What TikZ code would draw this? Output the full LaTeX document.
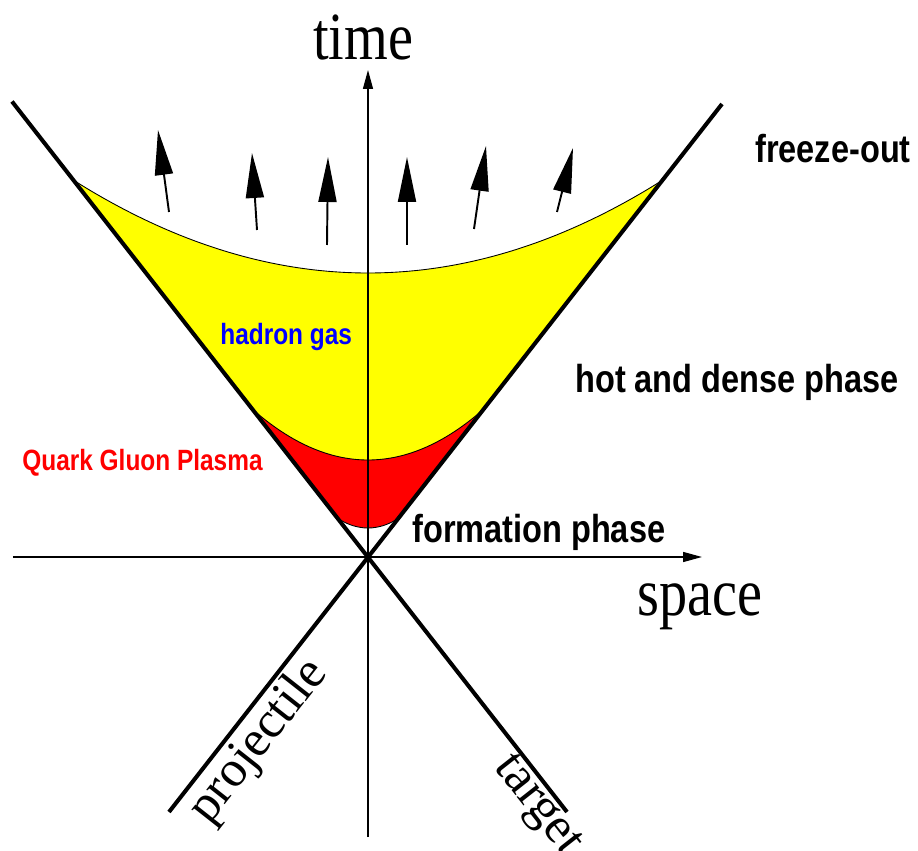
\documentclass[tikz,border=0pt]{standalone}
\usepackage{fontspec}
\setmainfont{Liberation Serif}
\setsansfont{Liberation Sans}
\usetikzlibrary{arrows.meta}
\definecolor{gasyellow}{RGB}{255,255,0}
\definecolor{qgpred}{RGB}{255,0,0}
\definecolor{gasblue}{RGB}{0,0,255}

\begin{document}
\begin{tikzpicture}[
    cone/.style={line width=2.3pt},
    rim/.style={line width=0.5pt},
    axis/.style={line width=0.8pt, -{Triangle[length=0.38cm,width=0.2cm]}},
    flow/.style={line width=1.1pt, -{Triangle[length=0.9cm,width=0.36cm]}},
    phase/.style={font=\sffamily\bfseries\fontsize{18.5}{20}\selectfont, yscale=1.2, anchor=base west, inner sep=0pt},
    matter/.style={font=\sffamily\bfseries\fontsize{13.9}{15}\selectfont, yscale=1.2, anchor=base west, inner sep=0pt},
    axlabel/.style={font=\fontsize{32}{34}\selectfont, yscale=1.2, anchor=base west, inner sep=0pt},
    beam/.style={font=\fontsize{29}{31}\selectfont, inner sep=0pt}
]
\useasboundingbox (-7.36,-5.86) rectangle (11.0,11.14);

\coordinate (o) at (0,0);
\coordinate (ul) at (-7.12,9.11);
\coordinate (ur) at (7.08,9.06);
\coordinate (ll) at (-3.98,-5.1);
\coordinate (lr) at (3.98,-5.1);
\coordinate (tbot) at (0,-5.6);
\coordinate (ttop) at (0,9.74);
\coordinate (sleft) at (-7.1,0);
\coordinate (sright) at (6.68,0);

\fill[gasyellow] plot[domain=-5.885:5.885, smooth, samples=40] (\x,{5.68+0.0535*\x*\x}) -- (o) -- cycle;
\fill[qgpred] plot[domain=-2.303:2.303, smooth, samples=30] (\x,{1.94+0.19*\x*\x}) -- (o) -- cycle;
\fill[white] plot[domain=-0.599:0.599, smooth, samples=15] (\x,{0.58+0.52*\x*\x}) -- (o) -- cycle;
\draw[rim] plot[domain=-5.885:5.885, smooth, samples=40] (\x,{5.68+0.0535*\x*\x});
\draw[rim] plot[domain=-2.303:2.303, smooth, samples=30] (\x,{1.94+0.19*\x*\x});
\draw[rim] plot[domain=-0.599:0.599, smooth, samples=15] (\x,{0.58+0.52*\x*\x});

\draw[axis] (tbot) -- (ttop);
\draw[axis] (sleft) -- (sright);
\draw[cone] (ul) -- (lr);
\draw[cone] (ur) -- (ll);

\draw[flow] (-3.98,6.90) -- (-4.20,8.54);
\draw[flow] (-2.22,6.54) -- (-2.32,8.08);
\draw[flow] (-0.82,6.24) -- (-0.80,8.00);
\draw[flow] (0.78,6.24) -- (0.78,8.00);
\draw[flow] (2.12,6.56) -- (2.36,8.22);
\draw[flow] (3.78,6.90) -- (4.10,8.18);

\node[axlabel] (time) at (-1.10,9.94) {time};
\node[axlabel] (space) at (5.38,-1.16) {space};
\node[phase] (freeze) at (7.74,7.88) {freeze-out};
\node[phase] (hotdense) at (4.14,3.28) {hot and dense phase};
\node[phase] (formation) at (0.88,0.28) {formation phase};
\node[matter, text=gasblue] (hadron) at (-2.96,4.24) {hadron gas};
\node[matter, text=qgpred] (qgp) at (-6.92,1.72) {Quark Gluon Plasma};
\node[beam, rotate=51.8] (projectile) at (-2.18,-3.70) {projectile};
\node[beam, rotate=-51.8] (target) at (3.36,-5.0) {target};
\end{tikzpicture}
\end{document}
